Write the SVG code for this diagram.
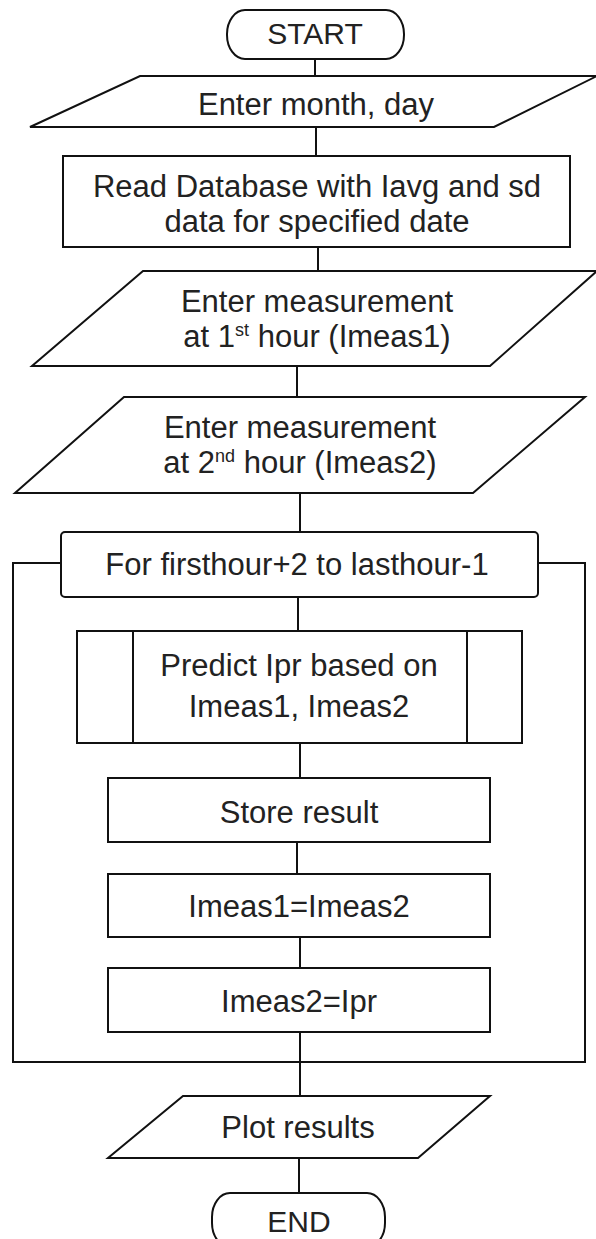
<svg xmlns="http://www.w3.org/2000/svg" width="596" height="1239" viewBox="0 0 596 1239">
<style>
.s{fill:#fff;stroke:#111;stroke-width:2}
.c{fill:none;stroke:#111;stroke-width:2}
.t{font-family:"Liberation Sans",Arial,sans-serif;font-size:31px;fill:#222;text-anchor:middle}
.tt{font-size:30px}
.sup{font-size:18px}
</style>
<rect width="596" height="1239" fill="#fff"/>
<g id="connectors">
<line class="c" x1="315" y1="59" x2="315" y2="76"/>
<line class="c" x1="316" y1="127" x2="316" y2="156"/>
<line class="c" x1="318" y1="247" x2="318" y2="271"/>
<line class="c" x1="297" y1="366" x2="297" y2="397"/>
<line class="c" x1="300" y1="493" x2="300" y2="532"/>
<line class="c" x1="298" y1="597" x2="298" y2="631"/>
<line class="c" x1="300" y1="743" x2="300" y2="778"/>
<line class="c" x1="297" y1="842" x2="297" y2="874"/>
<line class="c" x1="300" y1="937" x2="300" y2="968"/>
<line class="c" x1="300" y1="1032" x2="300" y2="1096"/>
<line class="c" x1="299" y1="1158" x2="299" y2="1193"/>
<polyline class="c" points="61,563 13,563 13,1062 585,1062 585,563 538,563"/>
</g>
<g id="start">
<rect class="s" x="227" y="10" width="177" height="49" rx="18" ry="24"/>
<text class="t tt" x="315" y="44">START</text>
</g>
<g id="enter-date">
<polygon class="s" points="140,76 597,76 494,127 30,127"/>
<text class="t" x="316" y="115">Enter month, day</text>
</g>
<g id="read-db">
<rect class="s" x="63" y="156" width="507" height="91"/>
<text class="t" x="317" y="197">Read Database with Iavg and sd</text>
<text class="t" x="317" y="232">data for specified date</text>
</g>
<g id="enter-meas1">
<polygon class="s" points="143,271 597,271 490,366 32,366"/>
<text class="t" x="317" y="312">Enter measurement</text>
<text class="t" x="317" y="347">at 1<tspan class="sup" dy="-11">st</tspan><tspan dy="11"> hour (Imeas1)</tspan></text>
</g>
<g id="enter-meas2">
<polygon class="s" points="124,397 585,397 473,493 15,493"/>
<text class="t" x="300" y="438">Enter measurement</text>
<text class="t" x="300" y="473">at 2<tspan class="sup" dy="-11">nd</tspan><tspan dy="11"> hour (Imeas2)</tspan></text>
</g>
<g id="loop">
<rect class="s" x="61" y="532" width="477" height="65" rx="4" ry="4"/>
<text class="t" x="297" y="575">For firsthour+2 to lasthour-1</text>
</g>
<g id="predict">
<rect class="s" x="77" y="631" width="445" height="112"/>
<line class="c" x1="133" y1="631" x2="133" y2="743"/>
<line class="c" x1="467" y1="631" x2="467" y2="743"/>
<text class="t" x="299" y="676">Predict Ipr based on</text>
<text class="t" x="299" y="717">Imeas1, Imeas2</text>
</g>
<g id="store">
<rect class="s" x="108" y="778" width="382" height="64"/>
<text class="t" x="299" y="823">Store result</text>
</g>
<g id="assign1">
<rect class="s" x="108" y="874" width="382" height="63"/>
<text class="t" x="299" y="917">Imeas1=Imeas2</text>
</g>
<g id="assign2">
<rect class="s" x="108" y="968" width="382" height="64"/>
<text class="t" x="299" y="1012">Imeas2=Ipr</text>
</g>
<g id="plot">
<polygon class="s" points="183,1096 490,1096 418,1158 108,1158"/>
<text class="t" x="298" y="1138">Plot results</text>
</g>
<g id="end">
<rect class="s" x="212" y="1193" width="173" height="54" rx="18" ry="24"/>
<text class="t tt" x="299" y="1232">END</text>
</g>
</svg>
